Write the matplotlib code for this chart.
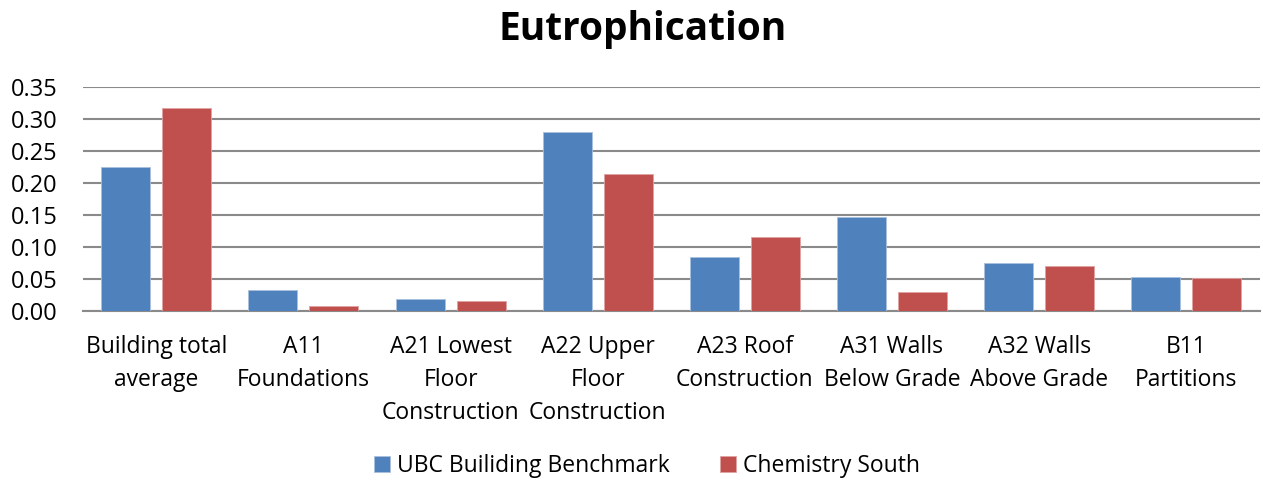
import matplotlib
matplotlib.use("Agg")
import matplotlib.pyplot as plt
import numpy as np

categories = [
    "Building total\naverage",
    "A11\nFoundations",
    "A21 Lowest\nFloor\nConstruction",
    "A22 Upper\nFloor\nConstruction",
    "A23 Roof\nConstruction",
    "A31 Walls\nBelow Grade",
    "A32 Walls\nAbove Grade",
    "B11\nPartitions",
]
ubc_benchmark = [0.224, 0.033, 0.018, 0.279, 0.085, 0.147, 0.075, 0.053]
chemistry_south = [0.317, 0.008, 0.016, 0.214, 0.115, 0.030, 0.071, 0.052]
series_names = ["UBC Builiding Benchmark", "Chemistry South"]
y_ticks = [0.00, 0.05, 0.10, 0.15, 0.20, 0.25, 0.30, 0.35]

plt.rcParams["font.family"] = ["Open Sans", "DejaVu Sans"]

fig = plt.figure(figsize=(12.63, 4.82), dpi=100)
ax = fig.add_axes([0.0655, 0.3548, 0.932, 0.4652])

x = np.arange(len(categories))
width = 0.333
offset = 0.207
ax.bar(x - offset, ubc_benchmark, width, color="#4F81BD", edgecolor="#a9c0de",
       linewidth=0.6, label=series_names[0], zorder=3)
ax.bar(x + offset, chemistry_south, width, color="#C0504D", edgecolor="#e0a3a1",
       linewidth=0.6, label=series_names[1], zorder=3)

ax.set_xlim(-0.5, len(categories) - 0.5)
ax.set_ylim(0, 0.35)
ax.set_yticks(y_ticks)
ax.set_yticklabels([f"{v:.2f}" for v in y_ticks], fontsize=17)
ax.set_xticks(x)
ax.set_xticklabels(categories, fontsize=16.5, linespacing=1.5, va="top")
ax.tick_params(axis="both", length=0)
ax.tick_params(axis="x", pad=17)
ax.tick_params(axis="y", pad=18)

ax.yaxis.grid(True, color="#8a8a8a", linewidth=1.5, zorder=0)
for side in ["left", "right", "top"]:
    ax.spines[side].set_visible(False)
ax.spines["bottom"].set_color("#8a8a8a")
ax.spines["bottom"].set_linewidth(1.5)

fig.text(0.509, 0.939, "Eutrophication", ha="center", va="center",
         fontsize=28, fontweight="bold")

fig.legend(loc="center", bbox_to_anchor=(0.512, 0.034), ncol=2, frameon=False,
           fontsize=16.5, handlelength=0.7, handleheight=0.7, handletextpad=0.3,
           columnspacing=2.2)

fig.savefig("out.png", dpi=100)
